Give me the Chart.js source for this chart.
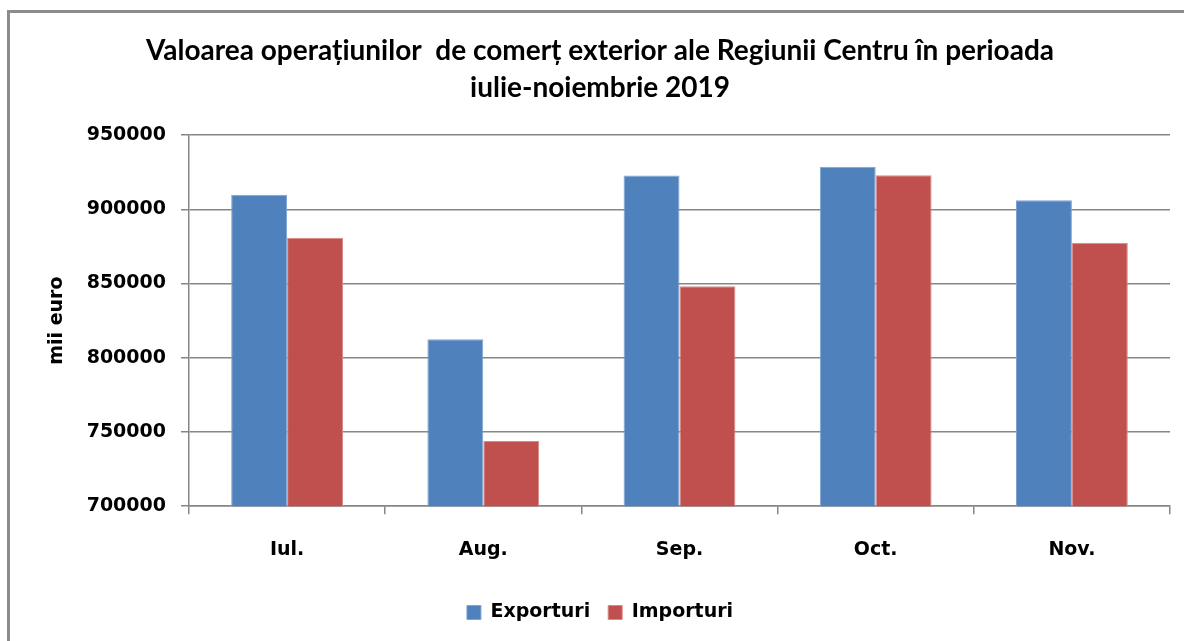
<!DOCTYPE html>
<html>
<head>
<meta charset="utf-8">
<script src="https://cdn.jsdelivr.net/npm/chart.js@4"></script>
<style>
  body { margin: 0; background: #fff; }
  #wrap { position: relative; width: 1184px; height: 641px; }
  #frame { position: absolute; left: 7px; top: 10px; width: 1190px; height: 650px;
           border-left: 3px solid #8c8c8c; border-top: 3px solid #8c8c8c; pointer-events: none; }
</style>
</head>
<body>
<div id="wrap">
  <canvas id="bar-chart-comert" width="1184" height="641"></canvas>
  <div id="frame"></div>
</div>
<script>
  // date (mii euro)
  const luni = ["Iul.", "Aug.", "Sep.", "Oct.", "Nov."];
  const exporturi = [909800, 812400, 922800, 928600, 906000];
  const importuri = [880800, 744000, 848100, 923000, 877400];
  const paletaColor = ["#4F81BD", "#C0504D"];

  const fontAxe = { family: "DejaVu Sans", size: 19, weight: "bold" };

  new Chart(document.getElementById("bar-chart-comert"), {
    type: 'bar',
    data: {
      labels: luni,
      datasets: [{
          label: "Exporturi",
          data: exporturi,
          backgroundColor: paletaColor[0],
          borderColor: "#7FA3D3",
          borderWidth: 1
        }, {
          label: "Importuri",
          data: importuri,
          backgroundColor: paletaColor[1],
          borderColor: "#D98A88",
          borderWidth: 1
        }
      ]
    },
    options: {
      responsive: false,
      animation: false,
      layout: { padding: { left: 30, right: 14, top: 0, bottom: 9 } },
      datasets: { bar: { barPercentage: 1, categoryPercentage: 0.57 } },
      scales: {
        x: {
          grid: { display: true, drawOnChartArea: false, drawTicks: true, tickLength: 8, color: "#868686", lineWidth: 1.5 },
          border: { color: "#868686", width: 1.5 },
          ticks: { color: "#000", font: fontAxe, padding: 24 }
        },
        y: {
          min: 700000,
          max: 950000,
          afterFit: function (scale) { scale.width = 159; },
          grid: { color: "#868686", lineWidth: 1.5, tickLength: 8 },
          border: { color: "#868686", width: 1.5 },
          ticks: {
            stepSize: 50000, color: "#000", font: fontAxe, padding: 15,
            callback: function (v) { return String(v); }
          },
          title: { display: true, text: "mii euro", color: "#000", font: fontAxe, padding: { top: 16, bottom: 0 } }
        }
      },
      plugins: {
        legend: {
          position: 'bottom',
          labels: { color: "#000", font: fontAxe, boxWidth: 14, boxHeight: 14, padding: 18 }
        },
        title: {
          display: true,
          text: ["Valoarea operațiunilor  de comerț exterior ale Regiunii Centru în perioada", "iulie-noiembrie 2019"],
          color: "#000",
          font: { family: "Lato", size: 28, weight: "bold", lineHeight: 1.34 },
          padding: { top: 32, bottom: 28 }
        },
        tooltip: { enabled: false }
      }
    }
  });
</script>
</body>
</html>
